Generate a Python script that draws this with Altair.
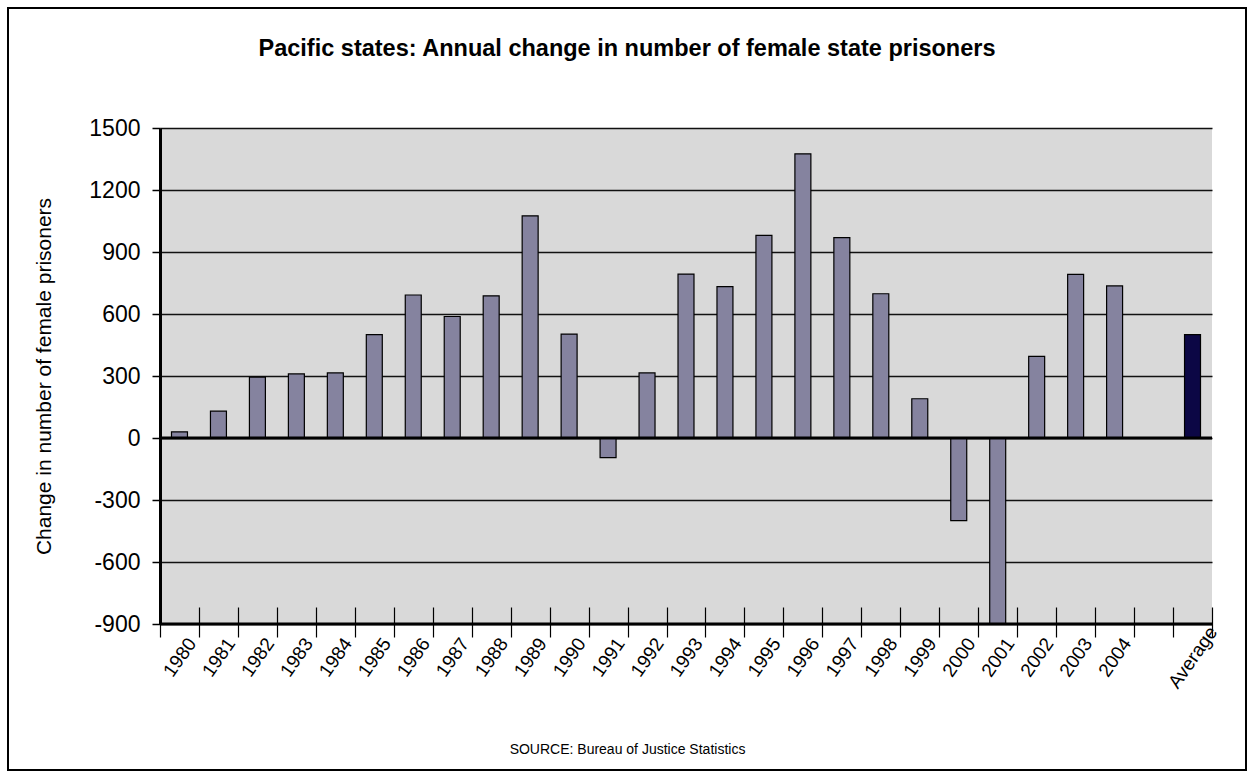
import altair as alt
import pandas as pd

# ---- data ----
categories = ["1980", "1981", "1982", "1983", "1984", "1985", "1986", "1987", "1988",
              "1989", "1990", "1991", "1992", "1993", "1994", "1995", "1996", "1997",
              "1998", "1999", "2000", "2001", "2002", "2003", "2004", " ", "Average"]
bar_labels = ["1980", "1981", "1982", "1983", "1984", "1985", "1986", "1987", "1988",
              "1989", "1990", "1991", "1992", "1993", "1994", "1995", "1996", "1997",
              "1998", "1999", "2000", "2001", "2002", "2003", "2004", "Average"]
values = [30, 130, 295, 310, 315, 500, 692, 588, 688,
          1075, 503, -95, 315, 793, 732, 980, 1375, 970,
          698, 190, -400, -900, 395, 792, 736, 500]
kinds = ["year"] * 25 + ["average"]

y_ticks = [-900, -600, -300, 0, 300, 600, 900, 1200, 1500]
base_lines = [0, -900]

df = pd.DataFrame({"label": bar_labels, "value": values, "kind": kinds})
lines_df = pd.DataFrame({"v": base_lines})

FONT = "Liberation Sans"
W, H = 1052, 496

x_scale = alt.Scale(domain=categories, paddingInner=0, paddingOuter=0)
y_scale = alt.Scale(domain=[-900, 1500], nice=False, zero=False)

bars = alt.Chart(df).mark_bar(
    stroke="black", strokeWidth=1.2, width=alt.RelativeBandSize(0.41)
).encode(
    x=alt.X("label:N", scale=x_scale, sort=categories,
            axis=alt.Axis(
                title="SOURCE: Bureau of Justice Statistics",
                titleFont=FONT, titleFontSize=14, titleFontWeight="normal",
                titleColor="black", titleX=467, titleY=146,
                titleAlign="center", titleBaseline="alphabetic", titleAngle=0,
                labelAngle=305, labelAlign="center", labelBaseline="middle",
                labelPadding=20, labelFont=FONT, labelFontSize=19,
                labelColor="black", labelOverlap=False, labelFlush=False,
                tickBand="extent", tickSize=30, tickColor="black", tickWidth=1.2,
                offset=-17, domain=False, grid=False)),
    y=alt.Y("value:Q", scale=y_scale,
            axis=alt.Axis(
                values=y_ticks, labelExpr="'' + datum.value",
                title="Change in number of female prisoners",
                titleFont=FONT, titleFontSize=21, titleFontWeight="normal",
                titleColor="black", titleX=-106,
                labelFont=FONT, labelFontSize=23, labelColor="black",
                labelPadding=12,
                tickSize=8, tickColor="black", tickWidth=1.5,
                domainColor="black", domainWidth=3,
                grid=True, gridColor="#111111", gridWidth=1.5)),
    color=alt.Color("kind:N", legend=None,
                    scale=alt.Scale(domain=["year", "average"],
                                    range=["#85839f", "#0c0745"])),
)

rules = alt.Chart(lines_df).mark_rule(color="black", strokeWidth=3).encode(
    y=alt.Y("v:Q", scale=y_scale)
)

frame = alt.Chart(alt.Data(values=[{}])).mark_rect(
    fill=None, filled=False, stroke="black", strokeWidth=2
).encode(
    x=alt.value(-152), x2=alt.value(1086), y=alt.value(-120), y2=alt.value(642)
)

chart = alt.layer(bars, rules, frame).properties(
    width=W, height=H,
    title=alt.TitleParams(
        "Pacific states: Annual change in number of female state prisoners",
        font=FONT, fontSize=23.5, fontWeight="bold", color="black",
        anchor="middle", dx=-59, offset=-72, baseline="alphabetic"),
    autosize=alt.AutoSizeParams(type="none"),
    padding={"left": 160, "top": 128, "right": 42, "bottom": 151},
    background="white",
).configure_view(fill="#d9d9d9", stroke=None)

chart.save("out.html", embed_options={"renderer": "svg", "actions": False})
